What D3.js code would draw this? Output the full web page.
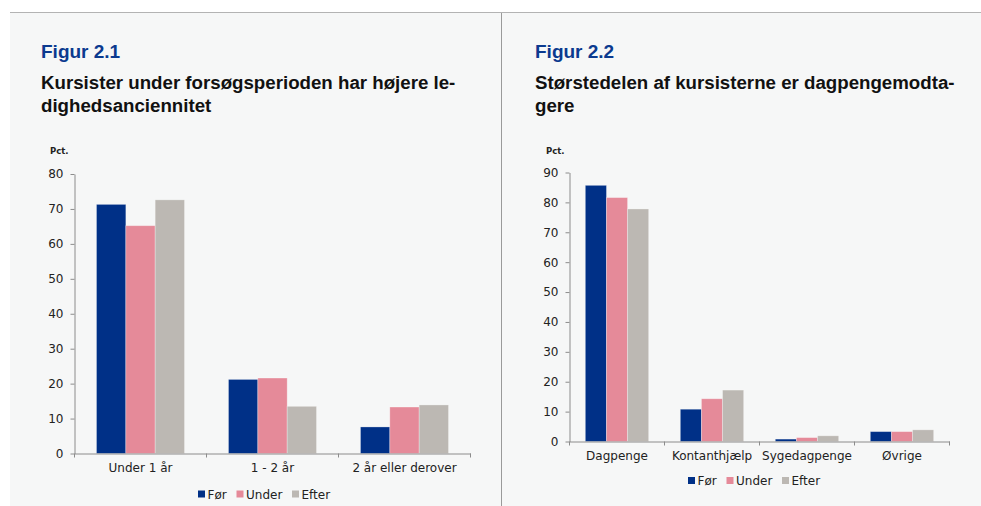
<!DOCTYPE html>
<html>
<head>
<meta charset="utf-8">
<script src="https://cdn.jsdelivr.net/npm/d3@7"></script>
<style>
  html, body { margin: 0; padding: 0; background: #ffffff; }
  svg { display: block; }
</style>
</head>
<body>
<svg id="chart" width="981" height="506"></svg>
<script>
// ---- Data ----
const seriesNames = ["Før", "Under", "Efter"];
const seriesColors = ["#003087", "#E58A99", "#BCB8B3"];

const fig1Categories = ["Under 1 år", "1 - 2 år", "2 år eller derover"];
const fig1Foer  = [71.3, 21.2, 7.6];
const fig1Under = [65.2, 21.6, 13.3];
const fig1Efter = [72.6, 13.5, 13.9];
const fig1Ticks = [0, 10, 20, 30, 40, 50, 60, 70, 80];

const fig2Categories = ["Dagpenge", "Kontanthjælp", "Sygedagpenge", "Øvrige"];
const fig2Foer  = [85.7, 10.8, 0.8, 3.3];
const fig2Under = [81.6, 14.3, 1.3, 3.3];
const fig2Efter = [77.8, 17.2, 1.9, 3.9];
const fig2Ticks = [0, 10, 20, 30, 40, 50, 60, 70, 80, 90];

// ---- Page frame ----
const svg = d3.select("#chart");
svg.append("rect").attr("x", 10).attr("y", 12.5).attr("width", 971).attr("height", 494).attr("fill", "#F6F7F7");
svg.append("line").attr("x1", 10).attr("x2", 981).attr("y1", 12.5).attr("y2", 12.5)
  .attr("stroke", "#B3B3B3").attr("stroke-width", 1.2);
svg.append("line").attr("x1", 501.5).attr("x2", 501.5).attr("y1", 13).attr("y2", 506)
  .attr("stroke", "#9A9A9A").attr("stroke-width", 1);

function drawChart(opts) {
  const g = svg.append("g");
  // Titles
  g.append("text").attr("x", opts.tx).attr("y", 58)
    .attr("font-family", "Liberation Sans, Arial, sans-serif").attr("font-weight", "bold")
    .attr("font-size", 19).attr("fill", "#0B3A8F").text(opts.fig);
  opts.title.forEach((t, i) => {
    g.append("text").attr("x", opts.tx).attr("y", 89 + i * 23)
      .attr("font-family", "Liberation Sans, Arial, sans-serif").attr("font-weight", "bold")
      .attr("font-size", 18.7).attr("fill", "#111").text(t);
  });
  g.append("text").attr("x", opts.px).attr("y", 154)
    .attr("font-family", "DejaVu Sans, Verdana, sans-serif").attr("font-weight", "bold")
    .attr("font-size", 8.5).attr("fill", "#222").text("Pct.");

  const y = d3.scaleLinear().domain([0, opts.ymax]).range([opts.y0, opts.y1]);
  const x = d3.scaleBand().domain(opts.categories).range([opts.x0, opts.x1]).padding(0);
  const bw = x.bandwidth();
  const xs = d3.scaleBand().domain(seriesNames).range([bw / 6, bw * 5 / 6]).padding(0);

  const data = opts.categories.map((c, i) => ({
    cat: c,
    vals: seriesNames.map((s, j) => ({ s, j, v: opts.series[j][i] }))
  }));

  const groups = g.selectAll("g.grp").data(data).join("g")
    .attr("transform", d => `translate(${x(d.cat)},0)`);
  groups.selectAll("rect").data(d => d.vals).join("rect")
    .attr("x", d => xs(d.s))
    .attr("width", xs.bandwidth())
    .attr("y", d => y(d.v))
    .attr("height", d => y(0) - y(d.v))
    .attr("fill", d => seriesColors[d.j])
    .attr("stroke", "rgba(255,255,255,0.35)")
    .attr("stroke-width", 0.8);

  // Y axis
  const yAxis = d3.axisLeft(y).tickValues(opts.ticks).tickSize(4).tickSizeOuter(0).tickPadding(7);
  const ya = g.append("g").attr("transform", `translate(${opts.x0},0)`).call(yAxis);
  ya.select(".domain").attr("stroke", "#8C8C8C");
  ya.selectAll(".tick line").attr("stroke", "#8C8C8C");
  ya.selectAll(".tick text").attr("font-family", "DejaVu Sans, Verdana, sans-serif")
    .attr("font-size", 12).attr("fill", "#222");

  // X axis
  const xa = g.append("g").attr("transform", `translate(0,${opts.y0})`)
    .call(d3.axisBottom(x).tickSize(0).tickPadding(opts.labelPad));
  xa.select(".domain").attr("stroke", "#8C8C8C");
  xa.selectAll(".tick text").attr("font-family", "DejaVu Sans, Verdana, sans-serif")
    .attr("font-size", 12).attr("fill", "#222");
  const bounds = opts.categories.map(c => x(c)).concat([opts.x1]);
  g.append("g").selectAll("line").data(bounds).join("line")
    .attr("x1", d => d).attr("x2", d => d)
    .attr("y1", opts.y0).attr("y2", opts.y0 + 4)
    .attr("stroke", "#8C8C8C");

  // Legend
  const lg = g.append("g").attr("transform", `translate(${opts.lx},${opts.ly})`);
  const offs = [0, 38.5, 94];
  seriesNames.forEach((s, j) => {
    const it = lg.append("g").attr("transform", `translate(${offs[j]},0)`);
    it.append("rect").attr("x", 0).attr("y", -3.5).attr("width", 7).attr("height", 7).attr("fill", seriesColors[j]);
    it.append("text").attr("x", 9.5).attr("y", 4.5)
      .attr("font-family", "DejaVu Sans, Verdana, sans-serif").attr("font-size", 12)
      .attr("fill", "#222").text(s);
  });
}

drawChart({
  fig: "Figur 2.1",
  title: ["Kursister under forsøgsperioden har højere le-", "dighedsanciennitet"],
  tx: 41, px: 50,
  categories: fig1Categories,
  series: [fig1Foer, fig1Under, fig1Efter],
  ticks: fig1Ticks, ymax: 80,
  x0: 74.5, x1: 470.5, y0: 453.5, y1: 174,
  labelPad: 10,
  lx: 198, ly: 494
});

drawChart({
  fig: "Figur 2.2",
  title: ["Størstedelen af kursisterne er dagpengemodta-", "gere"],
  tx: 535, px: 546,
  categories: fig2Categories,
  series: [fig2Foer, fig2Under, fig2Efter],
  ticks: fig2Ticks, ymax: 90,
  x0: 569.5, x1: 949.5, y0: 441.5, y1: 172.5,
  labelPad: 10,
  lx: 688, ly: 480.5
});
</script>
</body>
</html>
